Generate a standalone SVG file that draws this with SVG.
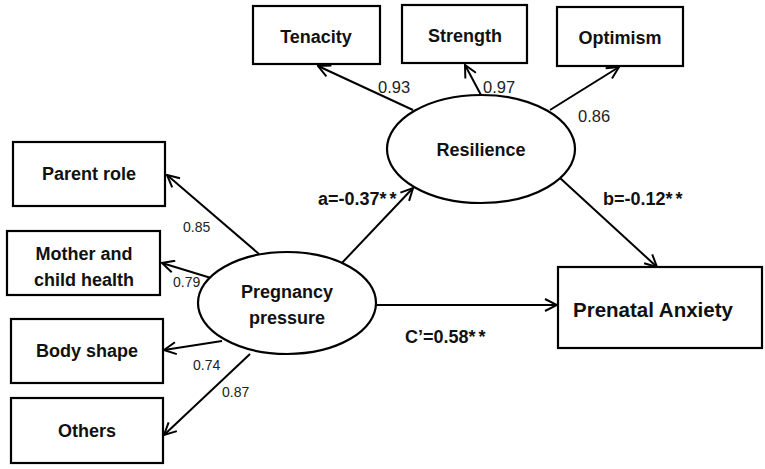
<svg xmlns="http://www.w3.org/2000/svg" width="765" height="469" viewBox="0 0 765 469">
<defs>
<marker id="arr" viewBox="0 0 14 14" refX="13" refY="7" markerWidth="14" markerHeight="14" markerUnits="userSpaceOnUse" orient="auto">
<path d="M1,1 L13,7 L1,13" fill="none" stroke="#000" stroke-width="2"/>
</marker>
<style>
.box{fill:#fff;stroke:#000;stroke-width:2.2}
.ell{fill:#fff;stroke:#000;stroke-width:2.2}
.lbl{font-family:"Liberation Sans",Arial,sans-serif;font-weight:bold;font-size:18px;fill:#111;text-anchor:middle}
.big{font-family:"Liberation Sans",Arial,sans-serif;font-weight:bold;font-size:20.5px;fill:#111}
.coef{font-family:"Liberation Sans",Arial,sans-serif;font-weight:bold;font-size:18px;fill:#111}
.num{font-family:"Liberation Sans",Arial,sans-serif;font-size:16.5px;fill:#222}
.nums{font-family:"Liberation Sans",Arial,sans-serif;font-size:14px;fill:#222}
.con{stroke:#000;stroke-width:2;fill:none;marker-end:url(#arr)}
</style>
</defs>
<rect width="765" height="469" fill="#fff"/>
<g id="connectors">
<line class="con" x1="413" y1="110" x2="318" y2="66"/>
<line class="con" x1="481" y1="95" x2="465" y2="65"/>
<line class="con" x1="550" y1="110" x2="619" y2="67"/>
<line class="con" x1="259" y1="254" x2="167" y2="175"/>
<line class="con" x1="211" y1="278" x2="162" y2="263"/>
<line class="con" x1="222" y1="341" x2="164" y2="350"/>
<line class="con" x1="250" y1="354" x2="164" y2="435"/>
<line class="con" x1="340" y1="265" x2="413" y2="188"/>
<line class="con" x1="560" y1="178" x2="657" y2="267"/>
<line class="con" x1="375" y1="305" x2="557" y2="305"/>
<text class="num" x="378" y="93">0.93</text>
<text class="num" x="483" y="93">0.97</text>
<text class="num" x="578" y="122">0.86</text>
<text class="nums" x="183" y="232">0.85</text>
<text class="nums" x="173" y="287">0.79</text>
<text class="nums" x="193" y="370">0.74</text>
<text class="nums" x="222" y="397">0.87</text>
<text class="coef" x="318" y="205">a=-0.37<tspan letter-spacing="3">**</tspan></text>
<text class="coef" x="603" y="205">b=-0.12<tspan letter-spacing="3">**</tspan></text>
<text class="coef" x="405" y="343">C’=0.58<tspan letter-spacing="3">**</tspan></text>
</g>
<g id="tenacity"><rect class="box" x="253" y="6" width="127" height="58"/><text class="lbl" x="316" y="43">Tenacity</text></g>
<g id="strength"><rect class="box" x="402" y="5" width="125" height="58"/><text class="lbl" x="465" y="42">Strength</text></g>
<g id="optimism"><rect class="box" x="557" y="7" width="126" height="59"/><text class="lbl" x="620" y="44">Optimism</text></g>
<g id="resilience"><ellipse class="ell" cx="481" cy="149" rx="94" ry="54"/><text class="lbl" x="481" y="156">Resilience</text></g>
<g id="parent-role"><rect class="box" x="13" y="142" width="152" height="64"/><text class="lbl" x="89" y="180">Parent role</text></g>
<g id="mother-child-health"><rect class="box" x="7" y="231" width="153" height="64"/><text class="lbl" x="84" y="260">Mother and</text><text class="lbl" x="84" y="286">child health</text></g>
<g id="body-shape"><rect class="box" x="11" y="319" width="152" height="64"/><text class="lbl" x="87" y="357">Body shape</text></g>
<g id="others"><rect class="box" x="11" y="398" width="152" height="65"/><text class="lbl" x="87" y="437">Others</text></g>
<g id="pregnancy-pressure"><ellipse class="ell" cx="287" cy="303" rx="89" ry="51"/><text class="lbl" x="287" y="298">Pregnancy</text><text class="lbl" x="287" y="324">pressure</text></g>
<g id="prenatal-anxiety"><rect class="box" x="558" y="267" width="204" height="81"/><text class="big" x="573" y="317">Prenatal Anxiety</text></g>
</svg>
